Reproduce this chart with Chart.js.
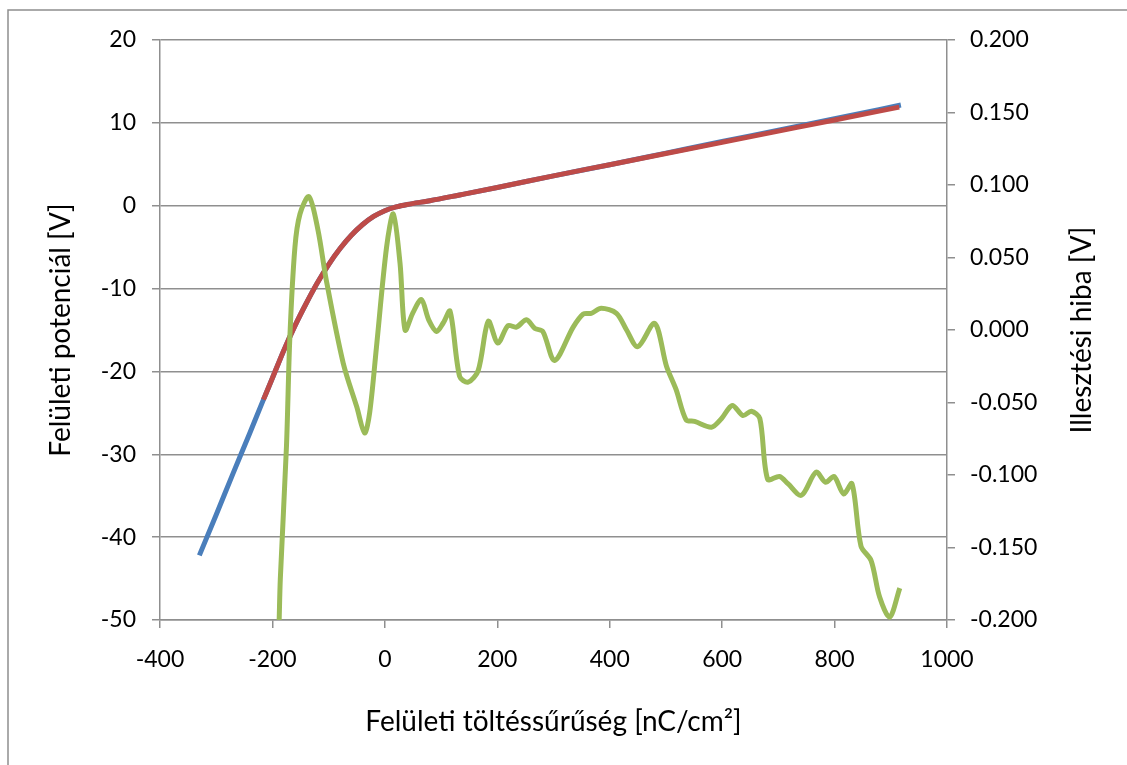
<!DOCTYPE html>
<html>
<head>
<meta charset="utf-8">
<script src="https://cdn.jsdelivr.net/npm/chart.js@4.4.0/dist/chart.umd.min.js"></script>
<style>
  body { margin: 0; background: #fff; }
  canvas { display: block; }
</style>
</head>
<body>
<canvas id="chart" width="1127" height="765"></canvas>
<script>
// surface charge density [nC/cm2] vs surface potential [V]
const measX = [-330, -300, -270, -240, -216, -200, -180, -160, -140, -120, -100, -80, -60, -40, -20, 0, 20, 40, 80, 133, 200, 300, 400, 500, 600, 700, 800, 918];
const measY = [-42.2, -37.3, -32.3, -27.4, -23.4, -20.8, -17.5, -14.5, -11.8, -9.3, -7.1, -5.2, -3.6, -2.3, -1.3, -0.6, -0.15, 0.15, 0.6, 1.3, 2.2, 3.6, 4.95, 6.35, 7.75, 9.1, 10.5, 12.15];

const fitX = [-216, -200, -180, -160, -140, -120, -100, -80, -60, -40, -20, 0, 20, 40, 80, 133, 200, 300, 400, 500, 600, 700, 800, 915];
const fitY = [-23.4, -20.8, -17.5, -14.5, -11.8, -9.3, -7.1, -5.2, -3.6, -2.3, -1.3, -0.6, -0.15, 0.15, 0.6, 1.3, 2.2, 3.6, 4.95, 6.3, 7.65, 9.0, 10.35, 11.9];

// fit error [V], right axis
const errX = [-188, -186, -175, -169, -160, -151, -135, -119, -104, -74, -50, -36, -27, -15, 3, 15, 27, 36, 50, 65, 78, 92, 104, 116, 133, 148, 166, 184, 201, 219, 234, 252, 267, 281, 302, 335, 353, 367, 385, 412, 430, 450, 480, 501, 518, 536, 551, 581, 599, 618, 637, 652, 667, 681, 702, 717, 741, 767, 784, 799, 816, 831, 847, 865, 880, 898, 916];
const errY = [-0.200, -0.172, -0.080, -0.005, 0.057, 0.080, 0.092, 0.069, 0.034, -0.023, -0.053, -0.071, -0.057, -0.012, 0.057, 0.080, 0.046, 0.000, 0.012, 0.021, 0.007, -0.001, 0.005, 0.013, -0.032, -0.036, -0.028, 0.006, -0.009, 0.003, 0.002, 0.007, 0.001, -0.001, -0.021, 0.002, 0.011, 0.0115, 0.015, 0.0115, 0.000, -0.0115, 0.0046, -0.025, -0.041, -0.062, -0.063, -0.067, -0.061, -0.052, -0.059, -0.056, -0.061, -0.103, -0.101, -0.106, -0.114, -0.098, -0.105, -0.101, -0.113, -0.106, -0.149, -0.159, -0.184, -0.198, -0.178];

const xTitle = 'Felületi töltéssűrűség [nC/cm²]';
const yTitle = 'Felületi potenciál [V]';
const y2Title = 'Illesztési hiba [V]';

const gridColor = '#8f8f8f';
const tickFont = { family: 'Lato', size: 23 };
const titleFont = { family: 'Lato', size: 28 };

function toPoints(xs, ys) {
  return xs.map((x, i) => ({ x: x, y: ys[i] }));
}

// outer frame (only left and top edges are visible in the picture)
const framePlugin = {
  id: 'frame',
  beforeDraw(chart) {
    const ctx = chart.ctx;
    ctx.save();
    ctx.strokeStyle = '#8f8f8f';
    ctx.lineWidth = 1.5;
    ctx.beginPath();
    ctx.moveTo(8, 765);
    ctx.lineTo(8, 10);
    ctx.lineTo(1127, 10);
    ctx.stroke();
    ctx.restore();
  }
};

// right axis title reads bottom-to-top like the left one
const rightTitlePlugin = {
  id: 'rightTitle',
  afterDraw(chart) {
    const ctx = chart.ctx;
    const area = chart.chartArea;
    ctx.save();
    ctx.translate(1082, (area.top + area.bottom) / 2);
    ctx.rotate(-Math.PI / 2);
    ctx.font = titleFont.size + 'px ' + titleFont.family;
    ctx.fillStyle = '#000';
    ctx.textAlign = 'center';
    ctx.textBaseline = 'middle';
    ctx.fillText(y2Title, 0, 0);
    ctx.restore();
  }
};

new Chart(document.getElementById('chart'), {
  type: 'line',
  data: {
    datasets: [
      {
        data: toPoints(errX, errY),
        borderColor: '#9bbb59',
        borderWidth: 5,
        pointRadius: 0,
        tension: 0.3,
        order: 0,
        yAxisID: 'y2'
      },
      {
        data: toPoints(fitX, fitY),
        borderColor: '#be4b48',
        borderWidth: 5,
        pointRadius: 0,
        cubicInterpolationMode: 'monotone',
        order: 1,
        yAxisID: 'y'
      },
      {
        data: toPoints(measX, measY),
        borderColor: '#4a7ebb',
        borderWidth: 5,
        pointRadius: 0,
        cubicInterpolationMode: 'monotone',
        order: 2,
        yAxisID: 'y'
      }
    ]
  },
  options: {
    responsive: false,
    animation: false,
    layout: { padding: { top: 40, left: 0, right: 0, bottom: 0 } },
    plugins: {
      legend: { display: false },
      tooltip: { enabled: false }
    },
    scales: {
      x: {
        type: 'linear',
        min: -400,
        max: 1000,
        ticks: { stepSize: 200, color: '#000', font: tickFont, padding: 18, maxRotation: 0, callback: v => String(v) },
        grid: { drawOnChartArea: false, tickLength: 8, color: gridColor, lineWidth: 1.5 },
        border: { color: gridColor, width: 1.5 },
        title: { display: true, text: xTitle, color: '#000', font: titleFont, padding: { top: 0, bottom: 26 } },
        afterFit(scale) { scale.height = 145; }
      },
      y: {
        position: 'left',
        min: -50,
        max: 20,
        ticks: { stepSize: 10, color: '#000', font: tickFont, padding: 16 },
        grid: { tickLength: 8, color: gridColor, lineWidth: 1.5 },
        border: { color: gridColor, width: 1.5 },
        title: { display: true, text: yTitle, color: '#000', font: titleFont, padding: { top: 44, bottom: 0 } },
        afterFit(scale) { scale.width = 160; }
      },
      y2: {
        position: 'right',
        min: -0.2,
        max: 0.2,
        ticks: {
          stepSize: 0.05,
          color: '#000',
          font: tickFont,
          padding: 15,
          callback: v => v.toFixed(3)
        },
        grid: { drawOnChartArea: false, tickLength: 8, color: gridColor, lineWidth: 1.5 },
        border: { color: gridColor, width: 1.5 },
        afterFit(scale) { scale.width = 180; }
      }
    }
  },
  plugins: [framePlugin, rightTitlePlugin]
});
</script>
</body>
</html>
